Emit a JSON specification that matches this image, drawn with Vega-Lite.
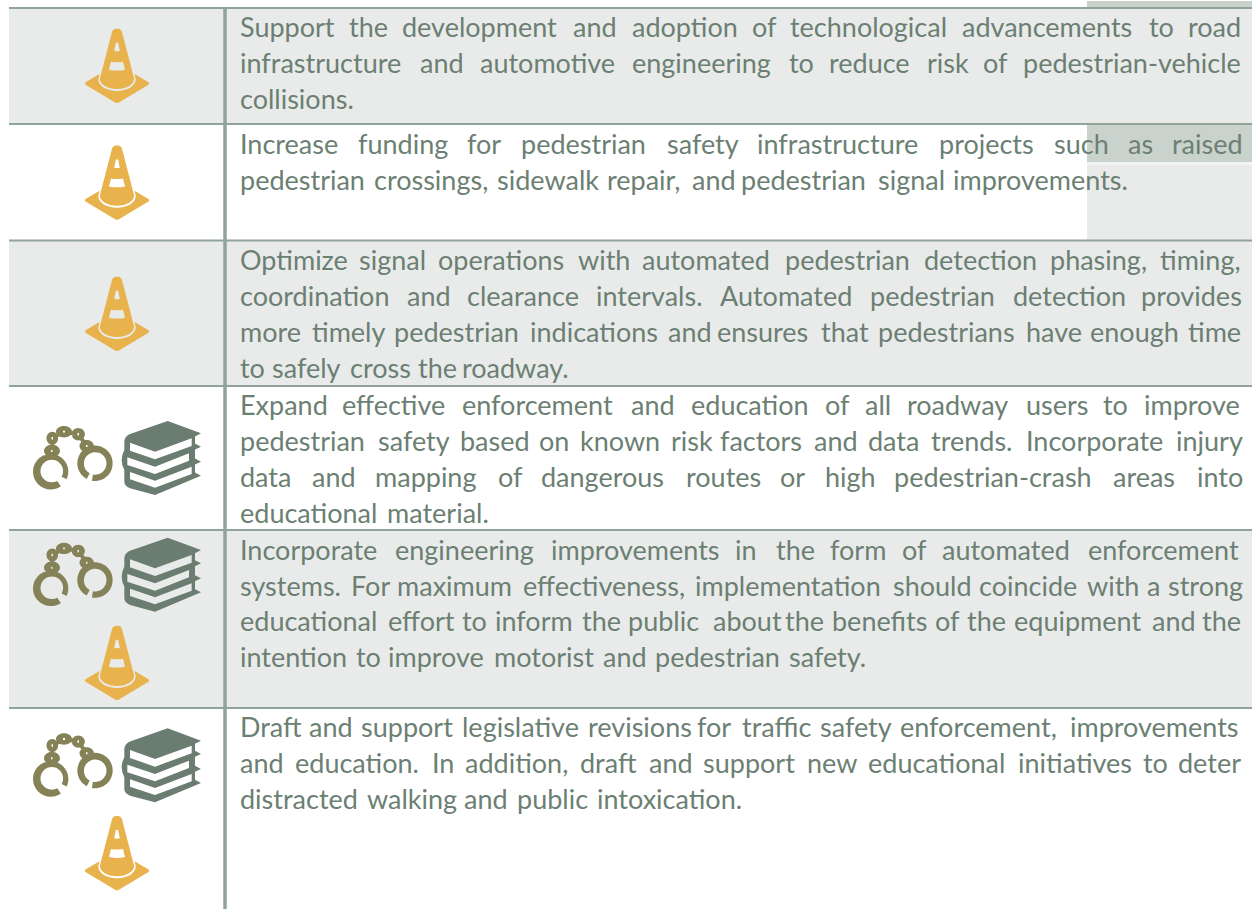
{"$schema":"https://vega.github.io/schema/vega-lite/v6.json","width":1252,"height":909,"padding":0,"autosize":"none","background":"#ffffff","view":{"stroke":null},
"datasets":{
"cells":[{"x0":9,"x1":1252,"y0":8,"y1":124,"kind":"band"},{"x0":9,"x1":1252,"y0":240,"y1":386,"kind":"band"},{"x0":9,"x1":1252,"y0":530,"y1":708,"kind":"band"},{"x0":1087,"x1":1252,"y0":165,"y1":240,"kind":"band"},{"x0":1087,"x1":1252,"y0":124,"y1":162,"kind":"patch"},{"x0":1087,"x1":1252,"y0":1,"y1":8,"kind":"patch"},{"x0":1087,"x1":1252,"y0":162,"y1":165,"kind":"gap"}],
"hlines":[{"y":8},{"y":124},{"y":240.5},{"y":386},{"y":530},{"y":708}],
"vlines":[{"x":225}],
"cones":[{"col":117,"pos":66},{"col":117,"pos":182.7},{"col":117,"pos":314},{"col":117,"pos":663},{"col":117,"pos":853.3}],
"cuffs":[{"col":73,"pos":458},{"col":73,"pos":574.7},{"col":73,"pos":765.3}],
"books":[{"col":161.5,"pos":458},{"col":161.5,"pos":574.7},{"col":161.5,"pos":765.3}],
"words":[
{"t":"Support","x":240,"y":36},{"t":"the","x":349,"y":36},{"t":"development","x":402,"y":36},{"t":"and","x":573,"y":36},{"t":"adoption","x":632,"y":36},{"t":"of","x":752,"y":36},{"t":"technological","x":790,"y":36},{"t":"advancements","x":962,"y":36},{"t":"to","x":1149,"y":36},{"t":"road","x":1188,"y":36},
{"t":"infrastructure","x":240,"y":72},{"t":"and","x":420,"y":72},{"t":"automotive","x":480,"y":72},{"t":"engineering","x":632,"y":72},{"t":"to","x":789,"y":72},{"t":"reduce","x":829,"y":72},{"t":"risk","x":927,"y":72},{"t":"of","x":983,"y":72},{"t":"pedestrian-vehicle","x":1023,"y":72},
{"t":"collisions.","x":240,"y":108},
{"t":"Increase","x":240,"y":153},{"t":"funding","x":358,"y":153},{"t":"for","x":467,"y":153},{"t":"pedestrian","x":521,"y":153},{"t":"safety","x":667,"y":153},{"t":"infrastructure","x":757,"y":153},{"t":"projects","x":939,"y":153},{"t":"such","x":1054,"y":153},{"t":"as","x":1128,"y":153},{"t":"raised","x":1172,"y":153},
{"t":"pedestrian","x":240,"y":189},{"t":"crossings,","x":374,"y":189},{"t":"sidewalk","x":497,"y":189},{"t":"repair,","x":607,"y":189},{"t":"and","x":692,"y":189},{"t":"pedestrian","x":741,"y":189},{"t":"signal","x":878,"y":189},{"t":"improvements.","x":953,"y":189},
{"t":"Optimize","x":240,"y":269},{"t":"signal","x":359,"y":269},{"t":"operations","x":438,"y":269},{"t":"with","x":578,"y":269},{"t":"automated","x":642,"y":269},{"t":"pedestrian","x":785,"y":269},{"t":"detection","x":924,"y":269},{"t":"phasing,","x":1050,"y":269},{"t":"timing,","x":1160,"y":269},
{"t":"coordination","x":240,"y":305},{"t":"and","x":407,"y":305},{"t":"clearance","x":467,"y":305},{"t":"intervals.","x":596,"y":305},{"t":"Automated","x":720,"y":305},{"t":"pedestrian","x":870,"y":305},{"t":"detection","x":1013,"y":305},{"t":"provides","x":1141,"y":305},
{"t":"more","x":240,"y":341},{"t":"timely","x":312,"y":341},{"t":"pedestrian","x":394,"y":341},{"t":"indications","x":530,"y":341},{"t":"and","x":668,"y":341},{"t":"ensures","x":717,"y":341},{"t":"that","x":821,"y":341},{"t":"pedestrians","x":878,"y":341},{"t":"have","x":1026,"y":341},{"t":"enough","x":1090,"y":341},{"t":"time","x":1188,"y":341},
{"t":"to","x":240,"y":377},{"t":"safely","x":272,"y":377},{"t":"cross","x":350,"y":377},{"t":"the","x":418,"y":377},{"t":"roadway.","x":462,"y":377},
{"t":"Expand","x":240,"y":414},{"t":"effective","x":342,"y":414},{"t":"enforcement","x":462,"y":414},{"t":"and","x":631,"y":414},{"t":"education","x":691,"y":414},{"t":"of","x":825,"y":414},{"t":"all","x":865,"y":414},{"t":"roadway","x":907,"y":414},{"t":"users","x":1026,"y":414},{"t":"to","x":1103,"y":414},{"t":"improve","x":1144,"y":414},
{"t":"pedestrian","x":240,"y":450},{"t":"safety","x":378,"y":450},{"t":"based","x":460,"y":450},{"t":"on","x":539,"y":450},{"t":"known","x":580,"y":450},{"t":"risk","x":671,"y":450},{"t":"factors","x":720,"y":450},{"t":"and","x":814,"y":450},{"t":"data","x":868,"y":450},{"t":"trends.","x":931,"y":450},{"t":"Incorporate","x":1026,"y":450},{"t":"injury","x":1176,"y":450},
{"t":"data","x":240,"y":486},{"t":"and","x":312,"y":486},{"t":"mapping","x":375,"y":486},{"t":"of","x":498,"y":486},{"t":"dangerous","x":541,"y":486},{"t":"routes","x":686,"y":486},{"t":"or","x":780,"y":486},{"t":"high","x":825,"y":486},{"t":"pedestrian-crash","x":894,"y":486},{"t":"areas","x":1113,"y":486},{"t":"into","x":1197,"y":486},
{"t":"educational","x":240,"y":522},{"t":"material.","x":387,"y":522},
{"t":"Incorporate","x":240,"y":559},{"t":"engineering","x":395,"y":559},{"t":"improvements","x":551,"y":559},{"t":"in","x":735,"y":559},{"t":"the","x":776,"y":559},{"t":"form","x":830,"y":559},{"t":"of","x":902,"y":559},{"t":"automated","x":942,"y":559},{"t":"enforcement","x":1088,"y":559},
{"t":"systems.","x":240,"y":595},{"t":"For","x":351,"y":595},{"t":"maximum","x":397,"y":595},{"t":"effectiveness,","x":523,"y":595},{"t":"implementation","x":695,"y":595},{"t":"should","x":893,"y":595},{"t":"coincide","x":979,"y":595},{"t":"with","x":1087,"y":595},{"t":"a","x":1147,"y":595},{"t":"strong","x":1168,"y":595},
{"t":"educational","x":240,"y":630},{"t":"effort","x":388,"y":630},{"t":"to","x":462,"y":630},{"t":"inform","x":495,"y":630},{"t":"the","x":582,"y":630},{"t":"public","x":628,"y":630},{"t":"about","x":713,"y":630},{"t":"the","x":785,"y":630},{"t":"benefits","x":832,"y":630},{"t":"of","x":935,"y":630},{"t":"the","x":967,"y":630},{"t":"equipment","x":1014,"y":630},{"t":"and","x":1152,"y":630},{"t":"the","x":1202,"y":630},
{"t":"intention","x":240,"y":666},{"t":"to","x":356,"y":666},{"t":"improve","x":388,"y":666},{"t":"motorist","x":494,"y":666},{"t":"and","x":603,"y":666},{"t":"pedestrian","x":655,"y":666},{"t":"safety.","x":789,"y":666},
{"t":"Draft","x":240,"y":736},{"t":"and","x":309,"y":736},{"t":"support","x":361,"y":736},{"t":"legislative","x":462,"y":736},{"t":"revisions","x":588,"y":736},{"t":"for","x":697,"y":736},{"t":"traffic","x":742,"y":736},{"t":"safety","x":820,"y":736},{"t":"enforcement,","x":900,"y":736},{"t":"improvements","x":1070,"y":736},
{"t":"and","x":240,"y":772},{"t":"education.","x":295,"y":772},{"t":"In","x":432,"y":772},{"t":"addition,","x":465,"y":772},{"t":"draft","x":580,"y":772},{"t":"and","x":649,"y":772},{"t":"support","x":703,"y":772},{"t":"new","x":807,"y":772},{"t":"educational","x":868,"y":772},{"t":"initiatives","x":1018,"y":772},{"t":"to","x":1143,"y":772},{"t":"deter","x":1178,"y":772},
{"t":"distracted","x":240,"y":808},{"t":"walking","x":367,"y":808},{"t":"and","x":464,"y":808},{"t":"public","x":517,"y":808},{"t":"intoxication.","x":597,"y":808}
]},
"layer":[
{"data":{"name":"cells"},"mark":{"type":"rect"},"encoding":{"x":{"field":"x0","type":"quantitative","scale":{"domain":[0,1252],"range":[0,1252]},"axis":null},"x2":{"field":"x1"},"y":{"field":"y0","type":"quantitative","scale":{"domain":[0,909],"range":[0,909]},"axis":null},"y2":{"field":"y1"},"color":{"field":"kind","type":"nominal","legend":null,"scale":{"domain":["band","patch","gap"],"range":["#e9ebea","#cad2cd","#f3f5f4"]}}}},
{"data":{"name":"hlines"},"mark":{"type":"rule","color":"#8fa398","strokeWidth":2},"encoding":{"y":{"field":"y","type":"quantitative","scale":{"domain":[0,909],"range":[0,909]},"axis":null},"x":{"datum":9,"type":"quantitative","scale":{"domain":[0,1252],"range":[0,1252]},"axis":null},"x2":{"datum":1252}}},
{"data":{"name":"vlines"},"mark":{"type":"rule","color":"#8fa398","strokeWidth":3.5},"encoding":{"x":{"field":"x","type":"quantitative","scale":{"domain":[0,1252],"range":[0,1252]},"axis":null},"y":{"datum":8,"type":"quantitative","scale":{"domain":[0,909],"range":[0,909]},"axis":null},"y2":{"datum":909}}},
{"data":{"name":"cones"},"mark":{"type":"point","filled":true,"opacity":1,"size":4,"color":"#e8b34d","shape":"M-17.5 8L-31.5 16.3Q-33 17.5 -31.5 18.7L-1.5 36.7Q0 37.5 1.5 36.7L31.5 18.7Q33 17.5 31.5 16.3L17.5 8L18.7 13C19 20 10 25 0 25C-10 25 -19 20 -18.7 13ZM-5.5 -32C-5 -36 -3 -37.3 0 -37.3C3 -37.3 5 -36 5.5 -32L17 12C18 18 10 23 0 23C-10 23 -18 18 -17 12ZM-1.2 -23.3L-2.8 -15Q0 -14.3 2.8 -15L1.2 -23.3ZM-6 -4.3L-8 3.7Q0 5.5 8 3.7L6 -4.3Q0 -3.3 -6 -4.3Z"},"encoding":{"x":{"field":"col","type":"quantitative","scale":{"domain":[0,1252],"range":[0,1252]},"axis":null},"y":{"field":"pos","type":"quantitative","scale":{"domain":[0,909],"range":[0,909]},"axis":null}}},
{"data":{"name":"cuffs"},"mark":{"type":"point","filled":true,"opacity":1,"size":4,"color":"#868258","shape":"M-12.15 28.2A17.7 17.7 0 1 1 -6.26 21.18L-11.4 18.7A11.3 11.3 0 1 0 -15.8 23ZM13.7 20.9A17.7 17.7 0 1 1 18.93 22.7L19.92 16.5A11.3 11.3 0 1 0 16.7 15.3ZM-29 -7C-29 -10.3 -25.4 -13.5 -21 -13.5C-16.6 -13.5 -13 -10.3 -13 -7C-13 -3.7 -16.6 -1 -21 -1C-25.4 -1 -29 -3.7 -29 -7ZM-26.5 -19.7C-26.5 -23.3 -23.9 -26.2 -20.7 -26.2C-17.5 -26.2 -14.9 -23.3 -14.9 -19.7C-14.9 -16.1 -17.5 -13.2 -20.7 -13.2C-23.9 -13.2 -26.5 -16.1 -26.5 -19.7ZM-17 -26.3C-17 -29.4 -13.4 -32 -9 -32C-4.6 -32 -1 -29.4 -1 -26.3C-1 -23.2 -4.6 -20.6 -9 -20.6C-13.4 -20.6 -17 -23.2 -17 -26.3ZM-1.3 -23.7C-1.3 -27 1.7 -29.9 5.3 -29.9C8.9 -29.9 11.9 -27 11.9 -23.7C11.9 -20.4 8.9 -17.5 5.3 -17.5C1.7 -17.5 -1.3 -20.4 -1.3 -23.7ZM6.5 -12C6.5 -15.3 9.7 -18 13.7 -18C17.7 -18 20.9 -15.3 20.9 -12C20.9 -8.7 17.7 -6 13.7 -6C9.7 -6 6.5 -8.7 6.5 -12ZM-23 -10.8L-22.8 -15.9L-18.8 -15.9L-19 -10.8ZM-18.75 -23.05L-12.95 -26.35L-10.95 -22.95L-16.75 -19.65ZM-5.09 -27.62L2.11 -26.32L1.39 -22.38L-5.81 -23.68ZM9.02 -21.91L13.22 -16.11L9.98 -13.79L5.78 -19.59ZM-22 -8L-22 -6L-20.5 -6L-20.5 -8ZM-21.5 -21L-21.5 -18.5L-20 -18.5L-20 -21ZM-10 -27.2L-10 -25.4L-8 -25.4L-8 -27.2ZM4.5 -25L4.5 -22.5L6 -22.5L6 -25ZM13 -13L13 -11L14.5 -11L14.5 -13Z"},"encoding":{"x":{"field":"col","type":"quantitative","scale":{"domain":[0,1252],"range":[0,1252]},"axis":null},"y":{"field":"pos","type":"quantitative","scale":{"domain":[0,909],"range":[0,909]},"axis":null}}},
{"data":{"name":"books"},"mark":{"type":"point","filled":true,"opacity":1,"size":4,"color":"#6b7d71","shape":"M6.17 -37L39.5 -24.67L33.5 -21.5L33.5 -14.5L39.5 -11.33L33.5 -8.5L33.5 0.5L39.5 3.67L33.5 6.5L33.5 14.5L39.5 17.67L-6.5 37L-31.5 30.33Q-37.17 28 -37.17 23.67L-37.17 12Q-39.83 7 -39.83 2Q-39.83 -3 -37.17 -8L-37.17 -16.33Q-37.17 -21 -32.17 -23.67ZM-31.5 -15.33L-31.5 -7.33L-6.5 1.33L30.17 -12L30.17 -19.67L-6.5 -6.33ZM-34.17 -0.67L-34.17 7L-6.5 16L27.5 2.67L27.5 -4.67L-6.5 8.67ZM-31.5 14L-31.5 21.33L-6.5 29.67L30.17 16L30.17 8.67L-6.5 22.67Z"},"encoding":{"x":{"field":"col","type":"quantitative","scale":{"domain":[0,1252],"range":[0,1252]},"axis":null},"y":{"field":"pos","type":"quantitative","scale":{"domain":[0,909],"range":[0,909]},"axis":null}}},
{"data":{"name":"words"},"mark":{"type":"text","align":"left","baseline":"alphabetic","font":"Lato","fontSize":27,"dy":0.5,"color":"#6c7f73"},"encoding":{"x":{"field":"x","type":"quantitative","scale":{"domain":[0,1252],"range":[0,1252]},"axis":null},"y":{"field":"y","type":"quantitative","scale":{"domain":[0,909],"range":[0,909]},"axis":null},"text":{"field":"t","type":"nominal"}}}
]}
